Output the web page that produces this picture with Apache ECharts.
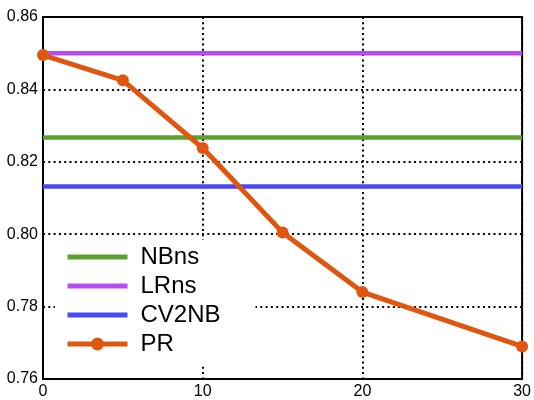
<!DOCTYPE html>
<html>
<head>
<meta charset="utf-8">
<script src="https://cdn.jsdelivr.net/npm/echarts@6/dist/echarts.min.js"></script>
<style>
  html, body { margin: 0; padding: 0; background: #fff; }
  #chart { width: 534px; height: 400px; }
</style>
</head>
<body>
<div id="chart"></div>
<script>
// 数据
var xValues = [0, 5, 10, 15, 20, 30];
var prValues = [0.8495, 0.8425, 0.8238, 0.8005, 0.7840, 0.7690];
var nbnsValue = 0.8267;
var lrnsValue = 0.8500;
var cv2nbValue = 0.8132;
var xRange = [0, 30];
var yRange = [0.76, 0.86];

var colors = {
    NBns: '#5ca12e',
    LRns: '#b84cf0',
    CV2NB: '#4848f4',
    PR: '#e0560f'
};

// 水平基准线
function flatLine(name, v) {
    return {
        name: name,
        type: 'line',
        symbol: 'none',
        lineStyle: { width: 4.5, color: colors[name] },
        itemStyle: { color: colors[name] },
        data: [[xRange[0], v], [xRange[1], v]]
    };
}

// 图例里水平线不要圆点
function flatLegend(name) {
    return { name: name, itemStyle: { color: 'rgba(0,0,0,0)', opacity: 0, borderWidth: 0 } };
}

var dotted = { color: '#000', width: 2, type: [2, 3.3] };

var option = {
    animation: false,
    textStyle: { fontFamily: 'Liberation Sans, Arial, sans-serif' },
    grid: {
        left: 43, right: 11, top: 17, bottom: 20,
        show: true,
        borderColor: '#000',
        borderWidth: 2,
        backgroundColor: 'transparent'
    },
    legend: {
        orient: 'vertical',
        left: 55,
        top: 240,
        padding: [5, 35, 8, 10],
        backgroundColor: '#fff',
        itemWidth: 60,
        itemHeight: 16,
        itemGap: 5,
        lineStyle: { width: 5 },
        textStyle: { fontSize: 24, color: '#000', padding: [0, 0, 0, 8] },
        data: [flatLegend('NBns'), flatLegend('LRns'), flatLegend('CV2NB'), 'PR']
    },
    xAxis: {
        type: 'value',
        min: xRange[0], max: xRange[1], interval: 10,
        axisLine: { show: false },
        axisTick: { show: false },
        axisLabel: { color: '#000', fontSize: 16, margin: 5 },
        splitLine: { show: true, lineStyle: dotted }
    },
    yAxis: {
        type: 'value',
        min: yRange[0], max: yRange[1], interval: 0.02,
        axisLine: { show: false },
        axisTick: { show: false },
        axisLabel: {
            color: '#000', fontSize: 16, margin: 5,
            formatter: function (v) { return v.toFixed(2); }
        },
        splitLine: { show: true, lineStyle: dotted }
    },
    series: [
        flatLine('NBns', nbnsValue),
        flatLine('LRns', lrnsValue),
        flatLine('CV2NB', cv2nbValue),
        {
            name: 'PR',
            type: 'line',
            symbol: 'circle',
            symbolSize: 12,
            lineStyle: { width: 5, color: colors.PR },
            itemStyle: { color: colors.PR },
            data: xValues.map(function (x, i) { return [x, prValues[i]]; })
        }
    ]
};

var chart = echarts.init(document.getElementById('chart'));
chart.setOption(option);
</script>
</body>
</html>
